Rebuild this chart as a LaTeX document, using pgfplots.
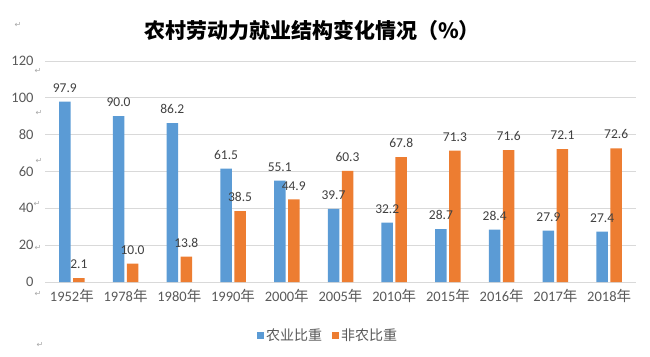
\documentclass[border=0pt]{standalone}
\usepackage{fontspec}
\usepackage{pgfplots}
\pgfplotsset{compat=1.18}
\setmainfont{Carlito}
\newfontfamily\cjk{Noto Sans CJK SC}
\newfontfamily\sym{DejaVu Sans}
\definecolor{blueb}{HTML}{5B9BD5}
\definecolor{orangeb}{HTML}{ED7D31}
\definecolor{gridc}{HTML}{D9D9D9}
\definecolor{tickc}{HTML}{595959}
\definecolor{labc}{HTML}{404040}
\definecolor{retc}{HTML}{A6A6A6}
\begin{document}
\begin{tikzpicture}[x=1pt,y=1pt]
\path (0,0) rectangle (650,356);
\node[font={\cjk\bfseries\fontsize{21}{21}\selectfont}] at (312,326) {农村劳动力就业结构变化情况（\%）};
\foreach \px/\py in {18/25,38/71,39/113,39/161,37/204,38/248,38/294,40/345}{
  \node[font={\sym\fontsize{8}{8}\selectfont}, text=retc, inner sep=0] at (\px,356-\py) {↵};
}
\begin{axis}[
  at={(45pt,74pt)}, anchor=south west,
  width=591pt, height=221pt, scale only axis,
  ymin=0, ymax=120, ytick={0,20,...,120},
  xmin=-0.5, xmax=10.5, xtick={0,...,10},
  xticklabels={1952{\cjk 年},1978{\cjk 年},1980{\cjk 年},1990{\cjk 年},2000{\cjk 年},2005{\cjk 年},2010{\cjk 年},2015{\cjk 年},2016{\cjk 年},2017{\cjk 年},2018{\cjk 年}},
  ybar=2.5pt, bar width=11.5pt,
  axis line style={draw=none},
  ymajorgrids, major grid style={draw=gridc, line width=0.8pt},
  major tick length=0pt,
  /pgf/number format/assume math mode=true,
  tick label style={font=\fontsize{14.5}{14.5}\selectfont, text=tickc},
  yticklabel style={xshift=-8pt},
  xticklabel style={yshift=-4pt},
  nodes near coords={\pgfmathprintnumber[fixed,fixed zerofill,precision=1,assume math mode=true]{\pgfplotspointmeta}},
  nodes near coords style={font=\fontsize{13.5}{13.5}\selectfont, text=labc, anchor=south, inner sep=0pt, yshift=9pt},
  legend style={at={(0.479,-0.24)}, anchor=center, draw=none, legend columns=2,
    font={\cjk\fontsize{14}{14}\selectfont}, text=tickc,
    /tikz/every even column/.append style={column sep=8pt}},
  legend image code/.code={\fill[#1] (0pt,-3.5pt) rectangle (7pt,3.5pt);},
]
\addplot[fill=blueb, draw=none] coordinates {(0,97.9) (1,90.0) (2,86.2) (3,61.5) (4,55.1) (5,39.7) (6,32.2) (7,28.7) (8,28.4) (9,27.9) (10,27.4)};
\addplot[fill=orangeb, draw=none] coordinates {(0,2.1) (1,10.0) (2,13.8) (3,38.5) (4,44.9) (5,60.3) (6,67.8) (7,71.3) (8,71.6) (9,72.1) (10,72.6)};
\legend{农业比重,非农比重}
\end{axis}
\end{tikzpicture}
\end{document}
